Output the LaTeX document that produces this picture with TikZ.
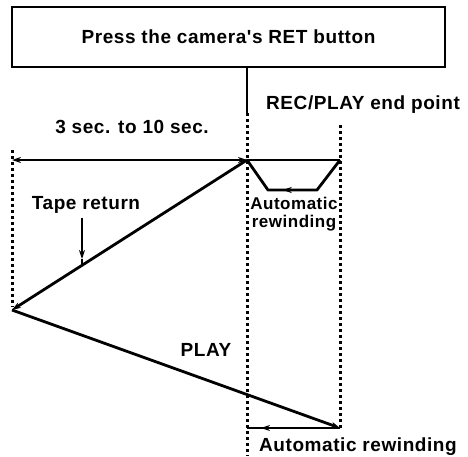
\documentclass[tikz,border=0pt]{standalone}
\usepackage{fontspec}
\setmainfont{Liberation Sans}
\usetikzlibrary{arrows.meta,decorations.markings,calc}
\newfontfamily\lblfont[LetterSpace=3]{Liberation Sans}
\tikzset{
  lbl/.style={font=\lblfont\fontsize{19}{21}\selectfont\bfseries, inner sep=0pt},
  solid line/.style={line width=2.8pt},
  dotline/.style={line width=3pt, dash pattern=on 2.8pt off 3.2pt},
  tip/.style={-{Stealth[length=9pt,width=6pt]}},
  midarrow/.style={postaction={decorate}, decoration={markings, mark=at position #1 with {\arrow{Stealth[length=9pt,width=6pt]}}}},
}
\begin{document}
\begin{tikzpicture}[x=1pt,y=-1pt]
\useasboundingbox (0,0) rectangle (468,456);
% box
\node[draw, line width=2.8pt, minimum width=433pt, minimum height=60pt, inner sep=0pt, lbl] (box) at (228.5,37) {Press the camera's RET button};
% key points
\coordinate (jtop) at (247,113);
\coordinate (A) at (247,160);
\coordinate (L0) at (12,160);
\coordinate (R0) at (340,160);
\coordinate (T1) at (268,190);
\coordinate (T2) at (317,190);
\coordinate (L) at (12,310);
\coordinate (R) at (340,428);
\coordinate (B) at (247,428);
\coordinate (dMbot) at (247,456);
\coordinate (dRtop) at (340,125);
\coordinate (dLtop) at (12,150);
\coordinate (dLbot) at (12,307);
\coordinate (trs) at (82,218);
\coordinate (tre) at (82,265);
\coordinate (trh) at (82,259);
% dotted verticals
\draw[dotline] (jtop) -- (dMbot);
\draw[dotline] (dRtop) -- (R);
\draw[dotline] (dLtop) -- (dLbot);
% connector from box
\draw[solid line] (box.south -| jtop) -- (jtop);
% top timing line
\draw[solid line, {Stealth[length=9pt,width=6pt]}-{Stealth[length=9pt,width=6pt]}] (L0) -- (A);
\draw[solid line] (A) -- (R0);
% trapezoid
\draw[solid line, line join=round] (A) -- (T1) -- (T2) -- (R0);
\draw[solid line, midarrow=0.7] (T2) -- (T1);
% tape return
\draw[solid line, tip] (A) -- (L);
\draw[solid line, tip] (trs) -- (trh);
\draw[solid line] (trh) -- (tre);
% play
\draw[solid line, tip] (L) -- (R);
% bottom rewinding
\draw[solid line, midarrow=0.85] (R) -- (B);
% labels
\node[lbl, anchor=west] (recend) at (266,105) {REC/PLAY end point};
\node[lbl] (secs) at (132,127) {3 sec. to 10 sec.};
\node[lbl] (tape) at (86,205) {Tape return};
\node[lbl, align=center, font=\lblfont\fontsize{17}{18.5}\selectfont\bfseries] (autorew) at (294,214) {Automatic\\rewinding};
\node[lbl] (play) at (206,350) {PLAY};
\node[lbl, anchor=west] (autorew2) at (259,447) {Automatic rewinding};
\end{tikzpicture}
\end{document}
